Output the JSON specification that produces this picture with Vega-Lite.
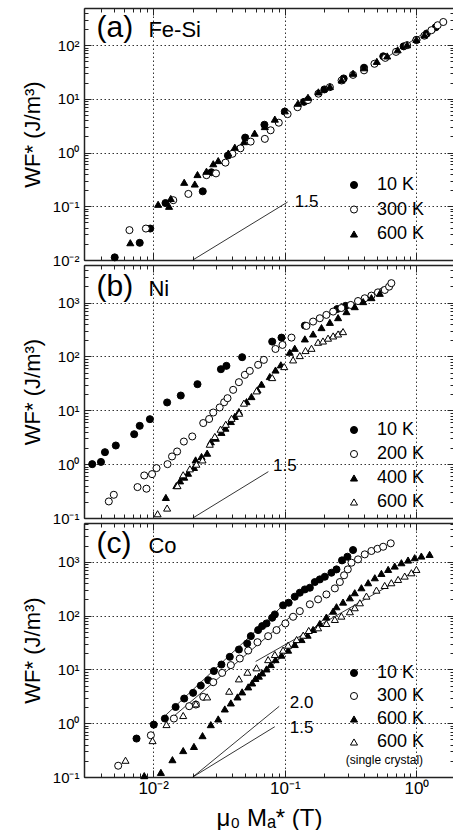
{
"$schema": "https://vega.github.io/schema/vega-lite/v6.json",
"padding": {"left": 21, "top": 7, "right": 0, "bottom": 0},
"spacing": 5,
"bounds": "flush",
"config": {
  "font": "Liberation Sans",
  "view": {"stroke": null},
  "axis": {
    "domainColor": "#222", "domainWidth": 1.5, "tickColor": "#222", "tickWidth": 1,
    "labelFont": "Liberation Sans", "labelFontSize": 15, "labelColor": "black", "labelFlush": false,
    "titleFont": "Liberation Sans", "titleFontSize": 22, "titleFontWeight": "normal", "titleColor": "black",
    "gridColor": "#333", "gridDash": [1.5, 2.5], "gridWidth": 1
  },
  "legend": {"labelFontSize": 18, "labelFont": "Liberation Sans", "labelColor": "black", "symbolSize": 50, "symbolStrokeWidth": 1, "labelOffset": 14, "padding": 0},
  "text": {"font": "Liberation Sans", "color": "black"}
},
"resolve": {"scale": {"x": "independent", "y": "independent", "shape": "independent", "fill": "independent", "stroke": "independent"}},
"datasets": {
  "a_pts": [
    {"x":0.0051,"y":0.0112,"s":"10 K"},{"x":0.0079,"y":0.0209,"s":"10 K"},{"x":0.0095,"y":0.0385,"s":"10 K"},{"x":0.0124,"y":0.115,"s":"10 K"},{"x":0.0238,"y":0.19,"s":"10 K"},{"x":0.0277,"y":0.43,"s":"10 K"},{"x":0.037,"y":0.88,"s":"10 K"},{"x":0.05,"y":1.9,"s":"10 K"},{"x":0.07,"y":3.3,"s":"10 K"},{"x":0.1,"y":5.8,"s":"10 K"},{"x":0.14,"y":8.8,"s":"10 K"},{"x":0.2,"y":15,"s":"10 K"},{"x":0.28,"y":24,"s":"10 K"},{"x":0.4,"y":38,"s":"10 K"},{"x":0.56,"y":62,"s":"10 K"},{"x":0.8,"y":95,"s":"10 K"},{"x":1.0,"y":125,"s":"10 K"},{"x":1.2,"y":165,"s":"10 K"},{"x":1.4,"y":215,"s":"10 K"},
    {"x":0.0066,"y":0.036,"s":"300 K"},{"x":0.0088,"y":0.0385,"s":"300 K"},{"x":0.0142,"y":0.13,"s":"300 K"},{"x":0.0185,"y":0.17,"s":"300 K"},{"x":0.0254,"y":0.38,"s":"300 K"},{"x":0.03,"y":0.41,"s":"300 K"},{"x":0.0354,"y":0.65,"s":"300 K"},{"x":0.04,"y":0.95,"s":"300 K"},{"x":0.046,"y":1.2,"s":"300 K"},{"x":0.055,"y":1.6,"s":"300 K"},{"x":0.0705,"y":1.8,"s":"300 K"},{"x":0.078,"y":2.6,"s":"300 K"},{"x":0.09,"y":3.6,"s":"300 K"},{"x":0.105,"y":5.2,"s":"300 K"},{"x":0.125,"y":7.0,"s":"300 K"},{"x":0.15,"y":9.5,"s":"300 K"},{"x":0.18,"y":12.5,"s":"300 K"},{"x":0.22,"y":16.5,"s":"300 K"},{"x":0.27,"y":22,"s":"300 K"},{"x":0.33,"y":28,"s":"300 K"},{"x":0.4,"y":34,"s":"300 K"},{"x":0.48,"y":45,"s":"300 K"},{"x":0.58,"y":58,"s":"300 K"},{"x":0.7,"y":75,"s":"300 K"},{"x":0.85,"y":100,"s":"300 K"},{"x":1.0,"y":125,"s":"300 K"},{"x":1.15,"y":150,"s":"300 K"},{"x":1.3,"y":190,"s":"300 K"},{"x":1.45,"y":235,"s":"300 K"},{"x":1.6,"y":270,"s":"300 K"},
    {"x":0.0067,"y":0.021,"s":"600 K"},{"x":0.0109,"y":0.109,"s":"600 K"},{"x":0.0132,"y":0.10,"s":"600 K"},{"x":0.0136,"y":0.14,"s":"600 K"},{"x":0.0172,"y":0.28,"s":"600 K"},{"x":0.0207,"y":0.26,"s":"600 K"},{"x":0.0217,"y":0.39,"s":"600 K"},{"x":0.0254,"y":0.45,"s":"600 K"},{"x":0.0286,"y":0.62,"s":"600 K"},{"x":0.0312,"y":0.71,"s":"600 K"},{"x":0.0372,"y":0.98,"s":"600 K"},{"x":0.0417,"y":1.26,"s":"600 K"},{"x":0.049,"y":1.6,"s":"600 K"},{"x":0.059,"y":2.3,"s":"600 K"},{"x":0.0705,"y":3.05,"s":"600 K"},{"x":0.084,"y":4.2,"s":"600 K"},{"x":0.1,"y":6.0,"s":"600 K"},{"x":0.126,"y":8.3,"s":"600 K"},{"x":0.15,"y":10.7,"s":"600 K"},{"x":0.18,"y":13.5,"s":"600 K"},{"x":0.22,"y":17,"s":"600 K"},{"x":0.27,"y":22.5,"s":"600 K"},{"x":0.33,"y":30,"s":"600 K"},{"x":0.4,"y":38,"s":"600 K"},{"x":0.5,"y":50,"s":"600 K"},{"x":0.6,"y":63,"s":"600 K"},{"x":0.72,"y":82,"s":"600 K"},{"x":0.85,"y":102,"s":"600 K"},{"x":1.0,"y":128,"s":"600 K"},{"x":1.15,"y":155,"s":"600 K"}
  ],
  "a_lines": [
    {"x":0.02,"y":0.01,"g":"s15"},{"x":0.105,"y":0.12,"g":"s15"},
    {"x":0.6,"y":60,"g":"f1"},{"x":1.64,"y":300,"g":"f1"}
  ],
  "a_big": [{"x":0.00371,"y":206,"t":"(a)"}],
  "a_name": [{"x":0.0092,"y":190,"t":"Fe-Si"}],
  "a_slope": [{"x":0.119,"y":0.12,"t":"1.5"}],
  "b_pts": [
    {"x":0.00344,"y":1.0,"s":"10 K"},{"x":0.00401,"y":1.1,"s":"10 K"},{"x":0.0043,"y":1.67,"s":"10 K"},{"x":0.0052,"y":2.22,"s":"10 K"},{"x":0.00717,"y":3.6,"s":"10 K"},{"x":0.0079,"y":5.15,"s":"10 K"},{"x":0.00944,"y":6.85,"s":"10 K"},{"x":0.01276,"y":14,"s":"10 K"},{"x":0.0162,"y":18.8,"s":"10 K"},{"x":0.0217,"y":30.6,"s":"10 K"},{"x":0.0327,"y":58,"s":"10 K"},{"x":0.036,"y":67,"s":"10 K"},{"x":0.0474,"y":97,"s":"10 K"},{"x":0.0802,"y":189,"s":"10 K"},{"x":0.0944,"y":224,"s":"10 K"},{"x":0.142,"y":375,"s":"10 K"},{"x":0.25,"y":760,"s":"10 K"},{"x":0.29,"y":870,"s":"10 K"},
    {"x":0.0046,"y":0.203,"s":"200 K"},{"x":0.00502,"y":0.27,"s":"200 K"},{"x":0.0076,"y":0.375,"s":"200 K"},{"x":0.00855,"y":0.617,"s":"200 K"},{"x":0.00889,"y":0.35,"s":"200 K"},{"x":0.0098,"y":0.653,"s":"200 K"},{"x":0.0106,"y":0.845,"s":"200 K"},{"x":0.01285,"y":1.0,"s":"200 K"},{"x":0.0139,"y":1.39,"s":"200 K"},{"x":0.0152,"y":1.72,"s":"200 K"},{"x":0.0171,"y":2.63,"s":"200 K"},{"x":0.0198,"y":3.27,"s":"200 K"},{"x":0.024,"y":5.8,"s":"200 K"},{"x":0.0266,"y":6.9,"s":"200 K"},{"x":0.0286,"y":9.1,"s":"200 K"},{"x":0.032,"y":11.3,"s":"200 K"},{"x":0.0346,"y":14.1,"s":"200 K"},{"x":0.0367,"y":16.8,"s":"200 K"},{"x":0.0405,"y":24,"s":"200 K"},{"x":0.0448,"y":33.3,"s":"200 K"},{"x":0.0497,"y":45.6,"s":"200 K"},{"x":0.0542,"y":54,"s":"200 K"},{"x":0.0627,"y":70,"s":"200 K"},{"x":0.0693,"y":86.5,"s":"200 K"},{"x":0.0849,"y":138,"s":"200 K"},{"x":0.096,"y":164,"s":"200 K"},{"x":0.1124,"y":224,"s":"200 K"},{"x":0.146,"y":369,"s":"200 K"},{"x":0.164,"y":445,"s":"200 K"},{"x":0.1845,"y":513,"s":"200 K"},{"x":0.207,"y":592,"s":"200 K"},{"x":0.233,"y":682,"s":"200 K"},{"x":0.269,"y":794,"s":"200 K"},{"x":0.317,"y":906,"s":"200 K"},{"x":0.36,"y":1071,"s":"200 K"},{"x":0.405,"y":1205,"s":"200 K"},{"x":0.455,"y":1350,"s":"200 K"},{"x":0.51,"y":1550,"s":"200 K"},{"x":0.575,"y":1720,"s":"200 K"},{"x":0.62,"y":1980,"s":"200 K"},{"x":0.645,"y":2300,"s":"200 K"},
    {"x":0.01248,"y":0.241,"s":"400 K"},{"x":0.015,"y":0.4,"s":"400 K"},{"x":0.016,"y":0.49,"s":"400 K"},{"x":0.0172,"y":0.575,"s":"400 K"},{"x":0.0184,"y":0.68,"s":"400 K"},{"x":0.0204,"y":0.87,"s":"400 K"},{"x":0.021,"y":1.2,"s":"400 K"},{"x":0.0233,"y":1.39,"s":"400 K"},{"x":0.0257,"y":1.6,"s":"400 K"},{"x":0.0274,"y":2.6,"s":"400 K"},{"x":0.0299,"y":3.04,"s":"400 K"},{"x":0.033,"y":3.9,"s":"400 K"},{"x":0.0354,"y":4.66,"s":"400 K"},{"x":0.0389,"y":6.2,"s":"400 K"},{"x":0.0417,"y":7.7,"s":"400 K"},{"x":0.0448,"y":9.5,"s":"400 K"},{"x":0.0512,"y":14.5,"s":"400 K"},{"x":0.0558,"y":18,"s":"400 K"},{"x":0.062,"y":24,"s":"400 K"},{"x":0.0665,"y":30.6,"s":"400 K"},{"x":0.0769,"y":42.4,"s":"400 K"},{"x":0.085,"y":56,"s":"400 K"},{"x":0.0933,"y":70,"s":"400 K"},{"x":0.109,"y":120,"s":"400 K"},{"x":0.119,"y":142,"s":"400 K"},{"x":0.142,"y":212,"s":"400 K"},{"x":0.164,"y":262,"s":"400 K"},{"x":0.19,"y":344,"s":"400 K"},{"x":0.22,"y":431,"s":"400 K"},{"x":0.254,"y":527,"s":"400 K"},{"x":0.294,"y":681,"s":"400 K"},{"x":0.34,"y":843,"s":"400 K"},{"x":0.394,"y":1046,"s":"400 K"},{"x":0.455,"y":1240,"s":"400 K"},{"x":0.527,"y":1490,"s":"400 K"},
    {"x":0.0108,"y":0.12,"s":"600 K"},{"x":0.01276,"y":0.153,"s":"600 K"},{"x":0.0153,"y":0.40,"s":"600 K"},{"x":0.0169,"y":0.635,"s":"600 K"},{"x":0.019,"y":0.82,"s":"600 K"},{"x":0.0213,"y":1.0,"s":"600 K"},{"x":0.0237,"y":1.2,"s":"600 K"},{"x":0.0269,"y":2.35,"s":"600 K"},{"x":0.0294,"y":3.27,"s":"600 K"},{"x":0.0325,"y":4.47,"s":"600 K"},{"x":0.0356,"y":5.5,"s":"600 K"},{"x":0.0394,"y":7.1,"s":"600 K"},{"x":0.045,"y":8.85,"s":"600 K"},{"x":0.0489,"y":13.6,"s":"600 K"},{"x":0.061,"y":23,"s":"600 K"},{"x":0.0802,"y":40.6,"s":"600 K"},{"x":0.099,"y":65,"s":"600 K"},{"x":0.1156,"y":86.5,"s":"600 K"},{"x":0.13,"y":104,"s":"600 K"},{"x":0.1436,"y":129,"s":"600 K"},{"x":0.1595,"y":142,"s":"600 K"},{"x":0.179,"y":184,"s":"600 K"},{"x":0.195,"y":194,"s":"600 K"},{"x":0.213,"y":219,"s":"600 K"},{"x":0.233,"y":241,"s":"600 K"},{"x":0.254,"y":262,"s":"600 K"},{"x":0.277,"y":290,"s":"600 K"}
  ],
  "b_lines": [
    {"x":0.02,"y":0.1,"g":"s15"},{"x":0.075,"y":0.726,"g":"s15"},
    {"x":0.321,"y":834,"g":"f2"},{"x":0.558,"y":1960,"g":"f2"},
    {"x":0.171,"y":160,"g":"f3"},{"x":0.277,"y":311,"g":"f3"}
  ],
  "b_big": [{"x":0.00371,"y":1980,"t":"(b)"}],
  "b_name": [{"x":0.0092,"y":1800,"t":"Ni"}],
  "b_slope": [{"x":0.0815,"y":0.906,"t":"1.5"}],
  "c_pts": [
    {"x":0.00747,"y":0.518,"s":"10 K"},{"x":0.0101,"y":0.94,"s":"10 K"},{"x":0.01227,"y":1.22,"s":"10 K"},{"x":0.0148,"y":2.0,"s":"10 K"},{"x":0.0172,"y":2.87,"s":"10 K"},{"x":0.0201,"y":3.66,"s":"10 K"},{"x":0.023,"y":5.0,"s":"10 K"},{"x":0.0262,"y":6.3,"s":"10 K"},{"x":0.0289,"y":9.3,"s":"10 K"},{"x":0.033,"y":12.3,"s":"10 K"},{"x":0.0382,"y":17.1,"s":"10 K"},{"x":0.0448,"y":23.4,"s":"10 K"},{"x":0.0518,"y":30.3,"s":"10 K"},{"x":0.0552,"y":41.5,"s":"10 K"},{"x":0.0627,"y":53.7,"s":"10 K"},{"x":0.0673,"y":63.7,"s":"10 K"},{"x":0.0726,"y":71.4,"s":"10 K"},{"x":0.0802,"y":91,"s":"10 K"},{"x":0.084,"y":105,"s":"10 K"},{"x":0.097,"y":155,"s":"10 K"},{"x":0.107,"y":173,"s":"10 K"},{"x":0.119,"y":224,"s":"10 K"},{"x":0.13,"y":266,"s":"10 K"},{"x":0.142,"y":306,"s":"10 K"},{"x":0.155,"y":329,"s":"10 K"},{"x":0.169,"y":419,"s":"10 K"},{"x":0.1845,"y":470,"s":"10 K"},{"x":0.2014,"y":527,"s":"10 K"},{"x":0.226,"y":625,"s":"10 K"},{"x":0.247,"y":721,"s":"10 K"},{"x":0.272,"y":1060,"s":"10 K"},{"x":0.299,"y":1240,"s":"10 K"},{"x":0.33,"y":1650,"s":"10 K"},
    {"x":0.00542,"y":0.162,"s":"300 K"},{"x":0.0096,"y":0.596,"s":"300 K"},{"x":0.01436,"y":1.22,"s":"300 K"},{"x":0.01876,"y":2.07,"s":"300 K"},{"x":0.0211,"y":2.22,"s":"300 K"},{"x":0.024,"y":3.08,"s":"300 K"},{"x":0.0286,"y":5.78,"s":"300 K"},{"x":0.0334,"y":8.6,"s":"300 K"},{"x":0.0389,"y":12,"s":"300 K"},{"x":0.0455,"y":15.9,"s":"300 K"},{"x":0.0527,"y":22.4,"s":"300 K"},{"x":0.062,"y":32,"s":"300 K"},{"x":0.0747,"y":41.4,"s":"300 K"},{"x":0.0865,"y":53.7,"s":"300 K"},{"x":0.101,"y":71.4,"s":"300 K"},{"x":0.1156,"y":95,"s":"300 K"},{"x":0.13,"y":121,"s":"300 K"},{"x":0.155,"y":162,"s":"300 K"},{"x":0.179,"y":200,"s":"300 K"},{"x":0.207,"y":247,"s":"300 K"},{"x":0.24,"y":320,"s":"300 K"},{"x":0.262,"y":420,"s":"300 K"},{"x":0.282,"y":560,"s":"300 K"},{"x":0.301,"y":721,"s":"300 K"},{"x":0.321,"y":960,"s":"300 K"},{"x":0.36,"y":1107,"s":"300 K"},{"x":0.405,"y":1371,"s":"300 K"},{"x":0.455,"y":1585,"s":"300 K"},{"x":0.506,"y":1740,"s":"300 K"},{"x":0.559,"y":1900,"s":"300 K"},{"x":0.638,"y":2200,"s":"300 K"},
    {"x":0.00855,"y":0.106,"s":"600 K"},{"x":0.01144,"y":0.122,"s":"600 K"},{"x":0.014,"y":0.21,"s":"600 K"},{"x":0.0169,"y":0.31,"s":"600 K"},{"x":0.0204,"y":0.37,"s":"600 K"},{"x":0.0237,"y":0.587,"s":"600 K"},{"x":0.0274,"y":0.94,"s":"600 K"},{"x":0.0312,"y":1.2,"s":"600 K"},{"x":0.035,"y":1.84,"s":"600 K"},{"x":0.0389,"y":2.38,"s":"600 K"},{"x":0.0437,"y":3.08,"s":"600 K"},{"x":0.0474,"y":3.82,"s":"600 K"},{"x":0.0527,"y":4.73,"s":"600 K"},{"x":0.0565,"y":5.6,"s":"600 K"},{"x":0.0598,"y":6.8,"s":"600 K"},{"x":0.0635,"y":7.5,"s":"600 K"},{"x":0.0673,"y":8.6,"s":"600 K"},{"x":0.0726,"y":10.2,"s":"600 K"},{"x":0.0783,"y":12.3,"s":"600 K"},{"x":0.085,"y":15.2,"s":"600 K"},{"x":0.0944,"y":18.4,"s":"600 K"},{"x":0.106,"y":22.8,"s":"600 K"},{"x":0.119,"y":29,"s":"600 K"},{"x":0.134,"y":35.9,"s":"600 K"},{"x":0.149,"y":43.3,"s":"600 K"},{"x":0.164,"y":55.2,"s":"600 K"},{"x":0.1845,"y":71.4,"s":"600 K"},{"x":0.207,"y":93.8,"s":"600 K"},{"x":0.233,"y":121,"s":"600 K"},{"x":0.247,"y":146,"s":"600 K"},{"x":0.277,"y":178,"s":"600 K"},{"x":0.312,"y":214,"s":"600 K"},{"x":0.34,"y":266,"s":"600 K"},{"x":0.382,"y":329,"s":"600 K"},{"x":0.43,"y":408,"s":"600 K"},{"x":0.483,"y":505,"s":"600 K"},{"x":0.542,"y":608,"s":"600 K"},{"x":0.61,"y":721,"s":"600 K"},{"x":0.684,"y":832,"s":"600 K"},{"x":0.769,"y":960,"s":"600 K"},{"x":0.864,"y":1076,"s":"600 K"},{"x":0.97,"y":1190,"s":"600 K"},{"x":1.09,"y":1277,"s":"600 K"},{"x":1.26,"y":1371,"s":"600 K"},
    {"x":0.00616,"y":0.205,"s":"600 K sc"},{"x":0.00989,"y":0.475,"s":"600 K sc"},{"x":0.01262,"y":0.944,"s":"600 K sc"},{"x":0.0169,"y":1.39,"s":"600 K sc"},{"x":0.0211,"y":2.29,"s":"600 K sc"},{"x":0.0257,"y":3.08,"s":"600 K sc"},{"x":0.0378,"y":3.93,"s":"600 K sc"},{"x":0.0448,"y":6.67,"s":"600 K sc"},{"x":0.052,"y":8.87,"s":"600 K sc"},{"x":0.061,"y":10.7,"s":"600 K sc"},{"x":0.0747,"y":15.2,"s":"600 K sc"},{"x":0.084,"y":18.9,"s":"600 K sc"},{"x":0.097,"y":22.8,"s":"600 K sc"},{"x":0.106,"y":28.2,"s":"600 K sc"},{"x":0.123,"y":35.9,"s":"600 K sc"},{"x":0.138,"y":43.3,"s":"600 K sc"},{"x":0.152,"y":52.9,"s":"600 K sc"},{"x":0.179,"y":59.3,"s":"600 K sc"},{"x":0.207,"y":71.4,"s":"600 K sc"},{"x":0.24,"y":84.8,"s":"600 K sc"},{"x":0.269,"y":97.8,"s":"600 K sc"},{"x":0.312,"y":118,"s":"600 K sc"},{"x":0.34,"y":140,"s":"600 K sc"},{"x":0.372,"y":173,"s":"600 K sc"},{"x":0.417,"y":230,"s":"600 K sc"},{"x":0.497,"y":297,"s":"600 K sc"},{"x":0.574,"y":363,"s":"600 K sc"},{"x":0.645,"y":408,"s":"600 K sc"},{"x":0.726,"y":470,"s":"600 K sc"},{"x":0.815,"y":542,"s":"600 K sc"},{"x":0.916,"y":625,"s":"600 K sc"},{"x":1.0,"y":721,"s":"600 K sc"}
  ],
  "c_lines": [
    {"x":0.02,"y":0.1,"g":"s20"},{"x":0.0907,"y":2.06,"g":"s20"},
    {"x":0.02,"y":0.1,"g":"s15"},{"x":0.0839,"y":0.86,"g":"s15"},
    {"x":0.0116,"y":1.2,"g":"f10"},{"x":0.097,"y":155,"g":"f10"},
    {"x":0.0134,"y":1.17,"g":"f300"},{"x":0.112,"y":98,"g":"f300"},
    {"x":0.0497,"y":4.2,"g":"f600"},{"x":0.24,"y":130,"g":"f600"},
    {"x":0.06,"y":14,"g":"fsc"},{"x":1.02,"y":720,"g":"fsc"}
  ],
  "c_big": [{"x":0.00371,"y":2140,"t":"(c)"}],
  "c_name": [{"x":0.0092,"y":2000,"t":"Co"}],
  "c_slope": [{"x":0.109,"y":2.38,"t":"2.0"},{"x":0.109,"y":0.816,"t":"1.5"}],
  "c_small": [{"x":0.571,"y":0.205,"t":"(single crystal)"}]
},
"vconcat": [
  {
    "width": 370, "height": 252,
    "resolve": {"axis": {"x": "independent", "y": "independent"}},
    "layer": [
      {"data": {"name": "a_lines"}, "mark": {"type": "line", "stroke": "black", "strokeWidth": 0.8},
       "encoding": {"x": {"field": "x", "type": "quantitative", "scale": {"type": "log", "domain": [0.00298, 1.93], "nice": false}, "axis": null},
                    "y": {"field": "y", "type": "quantitative", "scale": {"type": "log", "domain": [0.01, 492], "nice": false}, "axis": null},
                    "detail": {"field": "g"}}},
      {"data": {"name": "a_pts"}, "mark": {"type": "point", "strokeWidth": 1, "size": 50, "opacity": 1},
       "encoding": {
         "x": {"field": "x", "type": "quantitative", "scale": {"type": "log", "domain": [0.00298, 1.93], "nice": false},
               "axis": {"orient": "bottom", "values": [0.01, 0.1, 1], "labels": false, "title": null, "grid": true, "tickSize": -7}},
         "y": {"field": "y", "type": "quantitative", "scale": {"type": "log", "domain": [0.01, 492], "nice": false},
               "axis": {"orient": "left", "values": [0.01, 0.1, 1, 10, 100],
                        "labelExpr": "'10' + (round(log(datum.value)/LN10) < 0 ? '⁻' : '') + ['⁰','¹','²','³','⁴'][abs(round(log(datum.value)/LN10))]",
                        "labelPadding": 12, "title": "WF* (J/m³)", "titlePadding": 8, "grid": true, "tickSize": -7}},
         "shape": {"field": "s", "type": "nominal", "scale": {"domain": ["10 K", "300 K", "600 K"], "range": ["circle", "circle", "triangle-up"]},
                   "legend": {"title": null, "orient": "none", "legendX": 261, "legendY": 168, "rowPadding": 6.5}},
         "fill": {"field": "s", "type": "nominal", "scale": {"domain": ["10 K", "300 K", "600 K"], "range": ["black", "white", "black"]},
                  "legend": {"title": null, "orient": "none", "legendX": 261, "legendY": 168, "rowPadding": 6.5}},
         "stroke": {"field": "s", "type": "nominal", "scale": {"domain": ["10 K", "300 K", "600 K"], "range": ["black", "black", "black"]},
                  "legend": {"title": null, "orient": "none", "legendX": 261, "legendY": 168, "rowPadding": 6.5}}
       }},
      {"data": {"name": "a_big"}, "mark": {"type": "text", "fontSize": 30, "align": "left", "baseline": "middle"},
       "encoding": {"x": {"field": "x", "type": "quantitative", "scale": {"type": "log", "domain": [0.00298, 1.93], "nice": false}, "axis": null},
                    "y": {"field": "y", "type": "quantitative", "scale": {"type": "log", "domain": [0.01, 492], "nice": false}, "axis": null},
                    "text": {"field": "t"}}},
      {"data": {"name": "a_name"}, "mark": {"type": "text", "fontSize": 22, "align": "left", "baseline": "middle"},
       "encoding": {"x": {"field": "x", "type": "quantitative", "scale": {"type": "log", "domain": [0.00298, 1.93], "nice": false}, "axis": null},
                    "y": {"field": "y", "type": "quantitative", "scale": {"type": "log", "domain": [0.01, 492], "nice": false}, "axis": null},
                    "text": {"field": "t"}}},
      {"data": {"name": "a_slope"}, "mark": {"type": "text", "fontSize": 17, "align": "left", "baseline": "middle"},
       "encoding": {"x": {"field": "x", "type": "quantitative", "scale": {"type": "log", "domain": [0.00298, 1.93], "nice": false}, "axis": null},
                    "y": {"field": "y", "type": "quantitative", "scale": {"type": "log", "domain": [0.01, 492], "nice": false}, "axis": null},
                    "text": {"field": "t"}}},
      {"data": {"name": "a_pts"}, "mark": {"type": "point", "opacity": 0},
       "encoding": {
         "x": {"field": "x", "type": "quantitative", "scale": {"type": "log", "domain": [0.00298, 1.93], "nice": false},
               "axis": {"orient": "bottom", "values": [0.003,0.004,0.005,0.006,0.007,0.008,0.009,0.02,0.03,0.04,0.05,0.06,0.07,0.08,0.09,0.2,0.3,0.4,0.5,0.6,0.7,0.8,0.9],
                        "labels": false, "title": null, "grid": false, "domain": false, "tickSize": -4, "minExtent": 0, "maxExtent": 0}},
         "y": {"field": "y", "type": "quantitative", "scale": {"type": "log", "domain": [0.01, 492], "nice": false},
               "axis": {"orient": "left", "values": [0.02,0.03,0.04,0.05,0.06,0.07,0.08,0.09,0.2,0.3,0.4,0.5,0.6,0.7,0.8,0.9,2,3,4,5,6,7,8,9,20,30,40,50,60,70,80,90,200,300,400],
                        "labels": false, "title": null, "grid": false, "domain": false, "tickSize": -4, "minExtent": 0, "maxExtent": 0}}
       }},
      {"data": {"name": "a_pts"}, "mark": {"type": "point", "opacity": 0},
       "encoding": {
         "x": {"field": "x", "type": "quantitative", "scale": {"type": "log", "domain": [0.00298, 1.93], "nice": false},
               "axis": {"orient": "top", "values": [0.01, 0.1, 1], "labels": false, "title": null, "grid": false, "tickSize": -7, "minExtent": 0, "maxExtent": 0}},
         "y": {"field": "y", "type": "quantitative", "scale": {"type": "log", "domain": [0.01, 492], "nice": false},
               "axis": {"orient": "right", "values": [0.01, 0.1, 1, 10, 100], "labels": false, "title": null, "grid": false, "tickSize": -7, "minExtent": 0, "maxExtent": 0}}
       }},
      {"data": {"name": "a_pts"}, "mark": {"type": "point", "opacity": 0},
       "encoding": {
         "x": {"field": "x", "type": "quantitative", "scale": {"type": "log", "domain": [0.00298, 1.93], "nice": false},
               "axis": {"orient": "top", "values": [0.003,0.004,0.005,0.006,0.007,0.008,0.009,0.02,0.03,0.04,0.05,0.06,0.07,0.08,0.09,0.2,0.3,0.4,0.5,0.6,0.7,0.8,0.9],
                        "labels": false, "title": null, "grid": false, "domain": false, "tickSize": -4, "minExtent": 0, "maxExtent": 0}},
         "y": {"field": "y", "type": "quantitative", "scale": {"type": "log", "domain": [0.01, 492], "nice": false},
               "axis": {"orient": "right", "values": [0.02,0.03,0.04,0.05,0.06,0.07,0.08,0.09,0.2,0.3,0.4,0.5,0.6,0.7,0.8,0.9,2,3,4,5,6,7,8,9,20,30,40,50,60,70,80,90,200,300,400],
                        "labels": false, "title": null, "grid": false, "domain": false, "tickSize": -4, "minExtent": 0, "maxExtent": 0}}
       }}
    ]
  },
  {
    "width": 370, "height": 253,
    "resolve": {"axis": {"x": "independent", "y": "independent"}},
    "layer": [
      {"data": {"name": "b_lines"}, "mark": {"type": "line", "stroke": "black", "strokeWidth": 0.8},
       "encoding": {"x": {"field": "x", "type": "quantitative", "scale": {"type": "log", "domain": [0.00298, 1.93], "nice": false}, "axis": null},
                    "y": {"field": "y", "type": "quantitative", "scale": {"type": "log", "domain": [0.1, 5000], "nice": false}, "axis": null},
                    "detail": {"field": "g"}}},
      {"data": {"name": "b_pts"}, "mark": {"type": "point", "strokeWidth": 1, "size": 50, "opacity": 1},
       "encoding": {
         "x": {"field": "x", "type": "quantitative", "scale": {"type": "log", "domain": [0.00298, 1.93], "nice": false},
               "axis": {"orient": "bottom", "values": [0.01, 0.1, 1], "labels": false, "title": null, "grid": true, "tickSize": -7}},
         "y": {"field": "y", "type": "quantitative", "scale": {"type": "log", "domain": [0.1, 5000], "nice": false},
               "axis": {"orient": "left", "values": [0.1, 1, 10, 100, 1000],
                        "labelExpr": "'10' + (round(log(datum.value)/LN10) < 0 ? '⁻' : '') + ['⁰','¹','²','³','⁴'][abs(round(log(datum.value)/LN10))]",
                        "labelPadding": 12, "title": "WF* (J/m³)", "titlePadding": 8, "grid": true, "tickSize": -7}},
         "shape": {"field": "s", "type": "nominal", "scale": {"domain": ["10 K", "200 K", "400 K", "600 K"], "range": ["circle", "circle", "triangle-up", "triangle-up"]},
                   "legend": {"title": null, "orient": "none", "legendX": 261, "legendY": 156, "rowPadding": 6}},
         "fill": {"field": "s", "type": "nominal", "scale": {"domain": ["10 K", "200 K", "400 K", "600 K"], "range": ["black", "white", "black", "white"]},
                  "legend": {"title": null, "orient": "none", "legendX": 261, "legendY": 156, "rowPadding": 6}},
         "stroke": {"field": "s", "type": "nominal", "scale": {"domain": ["10 K", "200 K", "400 K", "600 K"], "range": ["black", "black", "black", "black"]},
                  "legend": {"title": null, "orient": "none", "legendX": 261, "legendY": 156, "rowPadding": 6}}
       }},
      {"data": {"name": "b_big"}, "mark": {"type": "text", "fontSize": 30, "align": "left", "baseline": "middle"},
       "encoding": {"x": {"field": "x", "type": "quantitative", "scale": {"type": "log", "domain": [0.00298, 1.93], "nice": false}, "axis": null},
                    "y": {"field": "y", "type": "quantitative", "scale": {"type": "log", "domain": [0.1, 5000], "nice": false}, "axis": null},
                    "text": {"field": "t"}}},
      {"data": {"name": "b_name"}, "mark": {"type": "text", "fontSize": 22, "align": "left", "baseline": "middle"},
       "encoding": {"x": {"field": "x", "type": "quantitative", "scale": {"type": "log", "domain": [0.00298, 1.93], "nice": false}, "axis": null},
                    "y": {"field": "y", "type": "quantitative", "scale": {"type": "log", "domain": [0.1, 5000], "nice": false}, "axis": null},
                    "text": {"field": "t"}}},
      {"data": {"name": "b_slope"}, "mark": {"type": "text", "fontSize": 17, "align": "left", "baseline": "middle"},
       "encoding": {"x": {"field": "x", "type": "quantitative", "scale": {"type": "log", "domain": [0.00298, 1.93], "nice": false}, "axis": null},
                    "y": {"field": "y", "type": "quantitative", "scale": {"type": "log", "domain": [0.1, 5000], "nice": false}, "axis": null},
                    "text": {"field": "t"}}},
      {"data": {"name": "b_pts"}, "mark": {"type": "point", "opacity": 0},
       "encoding": {
         "x": {"field": "x", "type": "quantitative", "scale": {"type": "log", "domain": [0.00298, 1.93], "nice": false},
               "axis": {"orient": "bottom", "values": [0.003,0.004,0.005,0.006,0.007,0.008,0.009,0.02,0.03,0.04,0.05,0.06,0.07,0.08,0.09,0.2,0.3,0.4,0.5,0.6,0.7,0.8,0.9],
                        "labels": false, "title": null, "grid": false, "domain": false, "tickSize": -4, "minExtent": 0, "maxExtent": 0}},
         "y": {"field": "y", "type": "quantitative", "scale": {"type": "log", "domain": [0.1, 5000], "nice": false},
               "axis": {"orient": "left", "values": [0.2,0.3,0.4,0.5,0.6,0.7,0.8,0.9,2,3,4,5,6,7,8,9,20,30,40,50,60,70,80,90,200,300,400,500,600,700,800,900,2000,3000,4000,5000],
                        "labels": false, "title": null, "grid": false, "domain": false, "tickSize": -4, "minExtent": 0, "maxExtent": 0}}
       }},
      {"data": {"name": "b_pts"}, "mark": {"type": "point", "opacity": 0},
       "encoding": {
         "x": {"field": "x", "type": "quantitative", "scale": {"type": "log", "domain": [0.00298, 1.93], "nice": false},
               "axis": {"orient": "top", "values": [0.01, 0.1, 1], "labels": false, "title": null, "grid": false, "tickSize": -7, "minExtent": 0, "maxExtent": 0}},
         "y": {"field": "y", "type": "quantitative", "scale": {"type": "log", "domain": [0.1, 5000], "nice": false},
               "axis": {"orient": "right", "values": [0.1, 1, 10, 100, 1000], "labels": false, "title": null, "grid": false, "tickSize": -7, "minExtent": 0, "maxExtent": 0}}
       }},
      {"data": {"name": "b_pts"}, "mark": {"type": "point", "opacity": 0},
       "encoding": {
         "x": {"field": "x", "type": "quantitative", "scale": {"type": "log", "domain": [0.00298, 1.93], "nice": false},
               "axis": {"orient": "top", "values": [0.003,0.004,0.005,0.006,0.007,0.008,0.009,0.02,0.03,0.04,0.05,0.06,0.07,0.08,0.09,0.2,0.3,0.4,0.5,0.6,0.7,0.8,0.9],
                        "labels": false, "title": null, "grid": false, "domain": false, "tickSize": -4, "minExtent": 0, "maxExtent": 0}},
         "y": {"field": "y", "type": "quantitative", "scale": {"type": "log", "domain": [0.1, 5000], "nice": false},
               "axis": {"orient": "right", "values": [0.2,0.3,0.4,0.5,0.6,0.7,0.8,0.9,2,3,4,5,6,7,8,9,20,30,40,50,60,70,80,90,200,300,400,500,600,700,800,900,2000,3000,4000,5000],
                        "labels": false, "title": null, "grid": false, "domain": false, "tickSize": -4, "minExtent": 0, "maxExtent": 0}}
       }}
    ]
  },
  {
    "width": 370, "height": 254,
    "resolve": {"axis": {"x": "independent", "y": "independent"}},
    "layer": [
      {"data": {"name": "c_lines"}, "mark": {"type": "line", "stroke": "black", "strokeWidth": 0.8},
       "encoding": {"x": {"field": "x", "type": "quantitative", "scale": {"type": "log", "domain": [0.00298, 1.93], "nice": false}, "axis": null},
                    "y": {"field": "y", "type": "quantitative", "scale": {"type": "log", "domain": [0.1, 5250], "nice": false}, "axis": null},
                    "detail": {"field": "g"}}},
      {"data": {"name": "c_pts"}, "mark": {"type": "point", "strokeWidth": 1, "size": 50, "opacity": 1},
       "encoding": {
         "x": {"field": "x", "type": "quantitative", "scale": {"type": "log", "domain": [0.00298, 1.93], "nice": false},
               "axis": {"orient": "bottom", "values": [0.01, 0.1, 1],
                        "labelExpr": "'10' + (round(log(datum.value)/LN10) < 0 ? '⁻' : '') + ['⁰','¹','²','³','⁴'][abs(round(log(datum.value)/LN10))]",
                        "labelPadding": 10, "labelFontSize": 17, "title": "μ₀ Mₐ* (T)", "titleFontSize": 24, "titlePadding": 10, "grid": true, "tickSize": -7}},
         "y": {"field": "y", "type": "quantitative", "scale": {"type": "log", "domain": [0.1, 5250], "nice": false},
               "axis": {"orient": "left", "values": [0.1, 1, 10, 100, 1000],
                        "labelExpr": "'10' + (round(log(datum.value)/LN10) < 0 ? '⁻' : '') + ['⁰','¹','²','³','⁴'][abs(round(log(datum.value)/LN10))]",
                        "labelPadding": 12, "title": "WF* (J/m³)", "titlePadding": 8, "grid": true, "tickSize": -7}},
         "shape": {"field": "s", "type": "nominal", "scale": {"domain": ["10 K", "300 K", "600 K", "600 K sc"], "range": ["circle", "circle", "triangle-up", "triangle-up"]},
                   "legend": {"title": null, "orient": "none", "legendX": 261, "legendY": 141, "rowPadding": 5, "labelExpr": "replace(datum.label, ' sc', '')"}},
         "fill": {"field": "s", "type": "nominal", "scale": {"domain": ["10 K", "300 K", "600 K", "600 K sc"], "range": ["black", "white", "black", "white"]},
                  "legend": {"title": null, "orient": "none", "legendX": 261, "legendY": 141, "rowPadding": 5, "labelExpr": "replace(datum.label, ' sc', '')"}},
         "stroke": {"field": "s", "type": "nominal", "scale": {"domain": ["10 K", "300 K", "600 K", "600 K sc"], "range": ["black", "black", "black", "black"]},
                  "legend": {"title": null, "orient": "none", "legendX": 261, "legendY": 141, "rowPadding": 5, "labelExpr": "replace(datum.label, ' sc', '')"}}
       }},
      {"data": {"name": "c_big"}, "mark": {"type": "text", "fontSize": 30, "align": "left", "baseline": "middle"},
       "encoding": {"x": {"field": "x", "type": "quantitative", "scale": {"type": "log", "domain": [0.00298, 1.93], "nice": false}, "axis": null},
                    "y": {"field": "y", "type": "quantitative", "scale": {"type": "log", "domain": [0.1, 5250], "nice": false}, "axis": null},
                    "text": {"field": "t"}}},
      {"data": {"name": "c_name"}, "mark": {"type": "text", "fontSize": 22, "align": "left", "baseline": "middle"},
       "encoding": {"x": {"field": "x", "type": "quantitative", "scale": {"type": "log", "domain": [0.00298, 1.93], "nice": false}, "axis": null},
                    "y": {"field": "y", "type": "quantitative", "scale": {"type": "log", "domain": [0.1, 5250], "nice": false}, "axis": null},
                    "text": {"field": "t"}}},
      {"data": {"name": "c_slope"}, "mark": {"type": "text", "fontSize": 17, "align": "left", "baseline": "middle"},
       "encoding": {"x": {"field": "x", "type": "quantitative", "scale": {"type": "log", "domain": [0.00298, 1.93], "nice": false}, "axis": null},
                    "y": {"field": "y", "type": "quantitative", "scale": {"type": "log", "domain": [0.1, 5250], "nice": false}, "axis": null},
                    "text": {"field": "t"}}},
      {"data": {"name": "c_small"}, "mark": {"type": "text", "fontSize": 12, "align": "center", "baseline": "middle"},
       "encoding": {"x": {"field": "x", "type": "quantitative", "scale": {"type": "log", "domain": [0.00298, 1.93], "nice": false}, "axis": null},
                    "y": {"field": "y", "type": "quantitative", "scale": {"type": "log", "domain": [0.1, 5250], "nice": false}, "axis": null},
                    "text": {"field": "t"}}},
      {"data": {"name": "c_pts"}, "mark": {"type": "point", "opacity": 0},
       "encoding": {
         "x": {"field": "x", "type": "quantitative", "scale": {"type": "log", "domain": [0.00298, 1.93], "nice": false},
               "axis": {"orient": "bottom", "values": [0.003,0.004,0.005,0.006,0.007,0.008,0.009,0.02,0.03,0.04,0.05,0.06,0.07,0.08,0.09,0.2,0.3,0.4,0.5,0.6,0.7,0.8,0.9],
                        "labels": false, "title": null, "grid": false, "domain": false, "tickSize": -4, "minExtent": 0, "maxExtent": 0}},
         "y": {"field": "y", "type": "quantitative", "scale": {"type": "log", "domain": [0.1, 5250], "nice": false},
               "axis": {"orient": "left", "values": [0.2,0.3,0.4,0.5,0.6,0.7,0.8,0.9,2,3,4,5,6,7,8,9,20,30,40,50,60,70,80,90,200,300,400,500,600,700,800,900,2000,3000,4000,5000],
                        "labels": false, "title": null, "grid": false, "domain": false, "tickSize": -4, "minExtent": 0, "maxExtent": 0}}
       }},
      {"data": {"name": "c_pts"}, "mark": {"type": "point", "opacity": 0},
       "encoding": {
         "x": {"field": "x", "type": "quantitative", "scale": {"type": "log", "domain": [0.00298, 1.93], "nice": false},
               "axis": {"orient": "top", "values": [0.01, 0.1, 1], "labels": false, "title": null, "grid": false, "tickSize": -7, "minExtent": 0, "maxExtent": 0}},
         "y": {"field": "y", "type": "quantitative", "scale": {"type": "log", "domain": [0.1, 5250], "nice": false},
               "axis": {"orient": "right", "values": [0.1, 1, 10, 100, 1000], "labels": false, "title": null, "grid": false, "tickSize": -7, "minExtent": 0, "maxExtent": 0}}
       }},
      {"data": {"name": "c_pts"}, "mark": {"type": "point", "opacity": 0},
       "encoding": {
         "x": {"field": "x", "type": "quantitative", "scale": {"type": "log", "domain": [0.00298, 1.93], "nice": false},
               "axis": {"orient": "top", "values": [0.003,0.004,0.005,0.006,0.007,0.008,0.009,0.02,0.03,0.04,0.05,0.06,0.07,0.08,0.09,0.2,0.3,0.4,0.5,0.6,0.7,0.8,0.9],
                        "labels": false, "title": null, "grid": false, "domain": false, "tickSize": -4, "minExtent": 0, "maxExtent": 0}},
         "y": {"field": "y", "type": "quantitative", "scale": {"type": "log", "domain": [0.1, 5250], "nice": false},
               "axis": {"orient": "right", "values": [0.2,0.3,0.4,0.5,0.6,0.7,0.8,0.9,2,3,4,5,6,7,8,9,20,30,40,50,60,70,80,90,200,300,400,500,600,700,800,900,2000,3000,4000,5000],
                        "labels": false, "title": null, "grid": false, "domain": false, "tickSize": -4, "minExtent": 0, "maxExtent": 0}}
       }}
    ]
  }
]
}
